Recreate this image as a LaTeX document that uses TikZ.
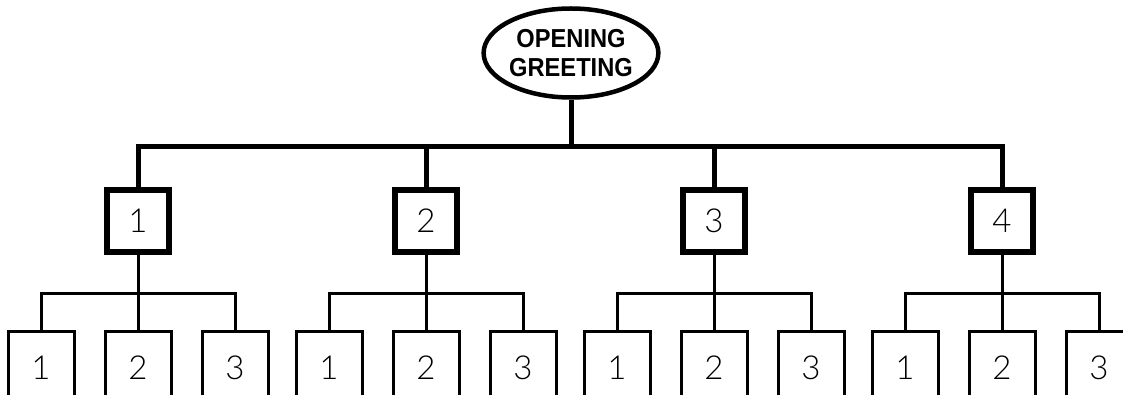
\documentclass[tikz,border=0pt]{standalone}
\usepackage{fontspec}
\setmainfont{Liberation Sans}
\newfontfamily\digitfont{Lato Light}
\usetikzlibrary{shapes.geometric}
\newcommand{\narrow}[1]{\scalebox{0.91}[1]{#1}}
\begin{document}
\begin{tikzpicture}[x=1pt,y=-1pt,
  heavy/.style={line width=5pt},
  light/.style={line width=3pt},
  rootnode/.style={ellipse,draw,line width=4.5pt,minimum width=169pt,minimum height=89pt,inner sep=0pt,
    align=center,font=\fontsize{26}{29}\selectfont\bfseries},
  topic/.style={rectangle,draw,line width=6pt,minimum width=62pt,minimum height=61pt,inner sep=0pt,
    font=\digitfont\fontsize{33}{33}\selectfont},
  subtopic/.style={rectangle,draw,light,minimum width=66pt,minimum height=74pt,inner sep=0pt,
    font=\digitfont\fontsize{33}{33}\selectfont}]
\useasboundingbox (0,0) rectangle (1123,395);
\clip (0,0) rectangle (1123,395);
\fill[white] (0,0) rectangle (1123,395);

% root
\node[rootnode] (root) at (571,53) {\narrow{OPENING}\\\narrow{GREETING}};
\coordinate (bar) at (571,147);

% main topics
\foreach \i/\x in {1/138,2/426,3/714,4/1002}{
  \node[topic] (g\i) at (\x,221) {\i};
  \coordinate (s\i) at (\x,293);
  \foreach \j/\dx in {1/-97,2/0,3/97}{
    \node[subtopic] (c\i\j) at (\x+\dx,368) {\j};
  }
}

% heavy connectors
\draw[heavy] (root.south) -- (bar);
\draw[heavy] (g1.north) |- (bar) -| (g4.north);
\draw[heavy] (g2.north) -- (g2.north |- bar);
\draw[heavy] (g3.north) -- (g3.north |- bar);

% light connectors
\foreach \i in {1,2,3,4}{
  \draw[light] (g\i.south) -- (c\i2.north);
  \draw[light] (c\i1.north) |- (s\i) -| (c\i3.north);
}
\end{tikzpicture}
\end{document}
